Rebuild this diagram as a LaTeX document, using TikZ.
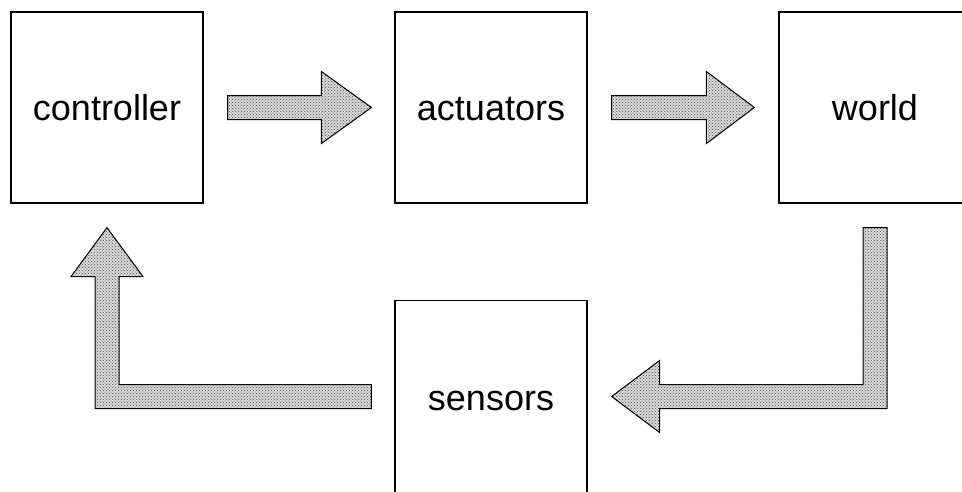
\documentclass[tikz,border=0pt]{standalone}
\usepackage{fontspec}
\setmainfont{Liberation Sans}
\usepackage{tikz}
\usetikzlibrary{calc,patterns}
\tikzstyle{ctl}=[
  x=1pt, y=-1pt, font=\fontsize{36}{43}\selectfont
]
\tikzstyle{ctlbox}=[
  draw, line width=1.2pt, minimum width=192pt, minimum height=191pt, inner sep=0pt,
  text height=26pt, text depth=1pt
]
\tikzstyle{ctlflow}=[
  draw, line width=1.0pt, line join=miter,
  preaction={fill=gray!30}, pattern=crosshatch dots, pattern color=gray!60!black
]

\begin{document}
\begin{tikzpicture}[ctl]

    \useasboundingbox (0,0) rectangle (962,491);
    \clip (0,0) rectangle (962,491);

    \node (controller) [ctlbox] at (107,107.5) {controller};
    \node (actuators) [ctlbox] at ($(controller) + (384,0)$) {actuators};
    \node (world) [ctlbox] at ($(actuators) + (384,0)$) {world};
    \node (sensors) [ctlbox, minimum height=194pt] at ($(actuators) + (0,290)$) {sensors};

    \coordinate (t1) at ($(actuators.west) + (-23,0)$);
    \coordinate (t2) at ($(world.west) + (-24,0)$);
    \coordinate (t3) at ($(sensors.east) + (24,-1)$);
    \coordinate (t4) at ($(controller.south) + (0,24)$);
    \coordinate (c3) at ($(world.south |- sensors.east) + (0,-1)$);
    \coordinate (c4) at ($(controller.south |- sensors.west) + (0,-1)$);

    % controller -> actuators
    \path [ctlflow] ($(controller.east) + (24,-12)$) -- ($(t1) + (-50,-12)$)
        -- ($(t1) + (-50,-36)$) -- (t1) -- ($(t1) + (-50,36)$)
        -- ($(t1) + (-50,12)$) -- ($(controller.east) + (24,12)$) -- cycle;
    % actuators -> world
    \path [ctlflow] ($(actuators.east) + (24,-12)$) -- ($(t2) + (-48,-12)$)
        -- ($(t2) + (-48,-36)$) -- (t2) -- ($(t2) + (-48,36)$)
        -- ($(t2) + (-48,12)$) -- ($(actuators.east) + (24,12)$) -- cycle;
    % world -> sensors
    \path [ctlflow] ($(world.south) + (-12,24)$) -- ($(world.south) + (12,24)$)
        -- ($(c3) + (12,12)$) -- ($(t3) + (48,12)$) -- ($(t3) + (48,36)$)
        -- (t3) -- ($(t3) + (48,-36)$) -- ($(t3) + (48,-12)$)
        -- ($(c3) + (-12,-12)$) -- cycle;
    % sensors -> controller
    \path [ctlflow] ($(c4 -| sensors.west) + (-23,-12)$) -- ($(c4) + (12,-12)$)
        -- ($(t4) + (12,49)$) -- ($(t4) + (36,49)$) -- (t4)
        -- ($(t4) + (-36,49)$) -- ($(t4) + (-12,49)$) -- ($(c4) + (-12,12)$)
        -- ($(c4 -| sensors.west) + (-23,12)$) -- cycle;

\end{tikzpicture}
\end{document}
